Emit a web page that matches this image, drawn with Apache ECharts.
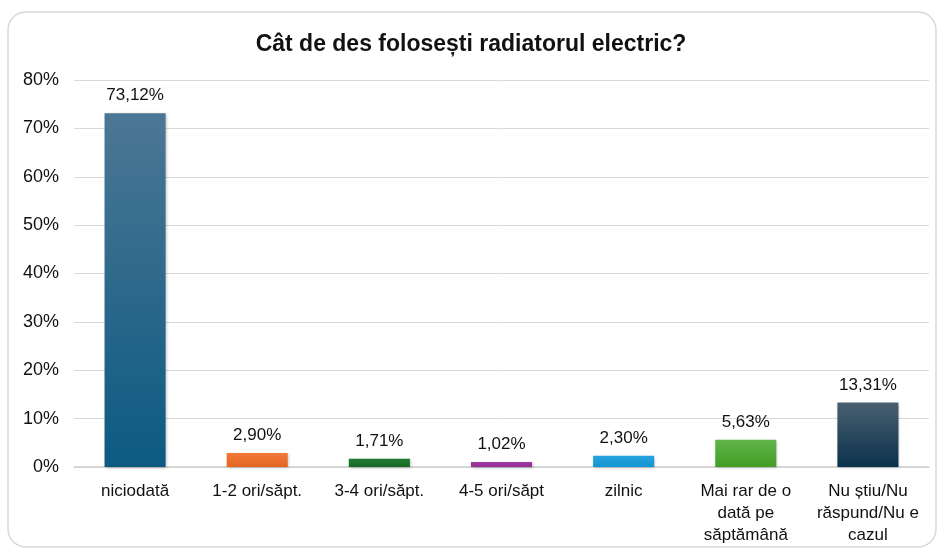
<!DOCTYPE html>
<html>
<head>
<meta charset="utf-8">
<script src="https://cdn.jsdelivr.net/npm/echarts@6/dist/echarts.min.js"></script>
<style>
  html, body { margin: 0; padding: 0; background: #fff; }
  #chart { width: 942px; height: 549px; }
</style>
</head>
<body>
<div id="chart"></div>
<script>
var categories = ['niciodată', '1-2 ori/săpt.', '3-4 ori/săpt.', '4-5 ori/săpt', 'zilnic', 'Mai rar de o\ndată pe\nsăptămână', 'Nu știu/Nu\nrăspund/Nu e\ncazul'];
var values = [73.12, 2.90, 1.71, 1.02, 2.30, 5.63, 13.31];
var colorsTop = ['#4c7794', '#f0793a', '#217a33', '#a03aa3', '#27a3dc', '#62b54c', '#4a5f70'];
var colorsBottom = ['#0c5a82', '#e4651f', '#146a24', '#932c96', '#1295d2', '#429e24', '#0a324c'];

var chart = echarts.init(document.getElementById('chart'));
var font = 'Liberation Sans, Arial, sans-serif';

var option = {
  animation: false,
  textStyle: { fontFamily: font },
  graphic: [{
    type: 'rect',
    shape: { x: 8, y: 12, width: 928, height: 535, r: 18 },
    style: { fill: 'none', stroke: '#d9d9d9', lineWidth: 1.5 },
    z: -1
  }],
  title: {
    text: 'Cât de des folosești radiatorul electric?',
    left: 'center',
    top: 28,
    textStyle: { fontFamily: font, fontSize: 23, fontWeight: 'bold', color: '#111' }
  },
  grid: { left: 74, right: 13, top: 80, bottom: 82 },
  xAxis: {
    type: 'category',
    data: categories,
    axisLine: { lineStyle: { color: '#d0d0d0', width: 1.5 } },
    axisTick: { show: false },
    axisLabel: { color: '#111', fontSize: 17, lineHeight: 22, margin: 13, interval: 0, fontFamily: font }
  },
  yAxis: {
    type: 'value',
    min: 0,
    max: 80,
    interval: 10,
    axisLine: { show: false },
    axisTick: { show: false },
    splitLine: { lineStyle: { color: '#d9d9d9', width: 1 } },
    axisLabel: { formatter: '{value}%', color: '#111', fontSize: 18, margin: 15, fontFamily: font }
  },
  series: [{
    type: 'bar',
    barWidth: '50%',
    data: values.map(function (v, i) {
      return {
        value: v,
        itemStyle: {
          color: new echarts.graphic.LinearGradient(0, 0, 0, 1, [
            { offset: 0, color: colorsTop[i] },
            { offset: 1, color: colorsBottom[i] }
          ]),
          shadowColor: 'rgba(0,0,0,0.25)',
          shadowBlur: 3,
          shadowOffsetX: 1,
          shadowOffsetY: 1
        }
      };
    }),
    label: {
      show: true,
      position: 'top',
      distance: 9,
      color: '#111',
      fontSize: 17,
      fontFamily: font,
      formatter: function (p) { return p.value.toFixed(2).replace('.', ',') + '%'; }
    }
  }]
};
chart.setOption(option);
</script>
</body>
</html>
